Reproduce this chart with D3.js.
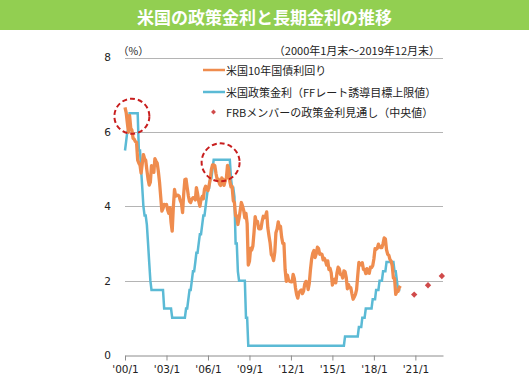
<!DOCTYPE html>
<html>
<head>
<meta charset="utf-8">
<script src="https://cdn.jsdelivr.net/npm/d3@7"></script>
<style>
  body { margin: 0; background: #fff; }
  svg { display: block; font-family: "Noto Sans CJK JP", "DejaVu Sans", sans-serif; }
  .axis text { font-family: "DejaVu Sans", sans-serif; font-size: 10.5px; fill: #222; }
</style>
</head>
<body>
<div id="chart"></div>
<script>
// monthly data, Jan 2000 .. Dec 2019
var startYear = 2000;

// 米国10年国債利回り (%)
var yield10 = [
  6.66, 6.52, 6.26, 5.99, 6.44, 6.10, 6.05, 5.83, 5.80, 5.74, 5.72, 5.24,
  5.16, 5.10, 4.89, 5.14, 5.39, 5.28, 5.24, 4.97, 4.73, 4.57, 4.65, 5.09,
  5.04, 4.91, 5.28, 5.21, 5.16, 4.93, 4.65, 4.26, 3.87, 3.94, 4.05, 4.03,
  4.05, 3.90, 3.81, 3.96, 3.57, 3.33, 3.98, 4.45, 4.27, 4.29, 4.30, 4.27,
  4.15, 4.08, 3.83, 4.35, 4.72, 4.73, 4.50, 4.28, 4.13, 4.10, 4.19, 4.23,
  4.22, 4.17, 4.50, 4.34, 4.14, 4.00, 4.18, 4.26, 4.20, 4.46, 4.54, 4.47,
  4.42, 4.57, 4.72, 4.99, 5.11, 5.11, 5.09, 4.88, 4.72, 4.73, 4.60, 4.56,
  4.76, 4.72, 4.56, 4.69, 4.75, 5.10, 5.00, 4.67, 4.52, 4.53, 4.15, 4.10,
  3.74, 3.74, 3.51, 3.68, 3.88, 4.10, 4.01, 3.89, 3.69, 3.81, 3.53, 2.42,
  2.52, 2.87, 2.82, 2.93, 3.29, 3.72, 3.56, 3.59, 3.40, 3.39, 3.40, 3.59,
  3.73, 3.69, 3.73, 3.85, 3.42, 3.20, 3.01, 2.70, 2.65, 2.54, 2.76, 3.29,
  3.39, 3.58, 3.41, 3.46, 3.17, 3.00, 3.00, 2.30, 1.98, 2.15, 2.01, 1.98,
  1.97, 1.97, 2.17, 2.05, 1.80, 1.62, 1.53, 1.68, 1.72, 1.75, 1.65, 1.72,
  1.91, 1.98, 1.96, 1.76, 1.93, 2.30, 2.58, 2.74, 2.81, 2.62, 2.72, 2.90,
  2.86, 2.71, 2.72, 2.71, 2.56, 2.60, 2.54, 2.42, 2.53, 2.30, 2.33, 2.21,
  1.88, 1.98, 2.04, 1.94, 2.20, 2.36, 2.32, 2.17, 2.17, 2.07, 2.26, 2.24,
  2.09, 1.78, 1.89, 1.81, 1.81, 1.64, 1.50, 1.56, 1.63, 1.76, 2.14, 2.49,
  2.43, 2.42, 2.48, 2.30, 2.30, 2.19, 2.32, 2.21, 2.20, 2.36, 2.35, 2.40,
  2.58, 2.86, 2.84, 2.87, 2.98, 2.91, 2.89, 2.89, 3.00, 3.15, 3.12, 2.83,
  2.71, 2.68, 2.57, 2.53, 2.40, 2.07, 2.06, 1.63, 1.70, 1.71, 1.81, 1.86
];

// 米国政策金利 (FFレート誘導目標上限値, %)
var policyRate = [
  5.50, 5.75, 6.00, 6.00, 6.50, 6.50, 6.50, 6.50, 6.50, 6.50, 6.50, 6.50,
  5.50, 5.50, 5.00, 4.50, 4.00, 3.75, 3.75, 3.50, 3.00, 2.50, 2.00, 1.75,
  1.75, 1.75, 1.75, 1.75, 1.75, 1.75, 1.75, 1.75, 1.75, 1.75, 1.25, 1.25,
  1.25, 1.25, 1.25, 1.25, 1.25, 1.00, 1.00, 1.00, 1.00, 1.00, 1.00, 1.00,
  1.00, 1.00, 1.00, 1.00, 1.00, 1.25, 1.25, 1.50, 1.75, 1.75, 2.00, 2.25,
  2.25, 2.50, 2.75, 2.75, 3.00, 3.25, 3.25, 3.50, 3.75, 3.75, 4.00, 4.25,
  4.50, 4.50, 4.75, 4.75, 5.00, 5.25, 5.25, 5.25, 5.25, 5.25, 5.25, 5.25,
  5.25, 5.25, 5.25, 5.25, 5.25, 5.25, 5.25, 5.25, 4.75, 4.50, 4.50, 4.25,
  3.00, 3.00, 2.25, 2.00, 2.00, 2.00, 2.00, 2.00, 2.00, 1.00, 1.00, 0.25,
  0.25, 0.25, 0.25, 0.25, 0.25, 0.25, 0.25, 0.25, 0.25, 0.25, 0.25, 0.25,
  0.25, 0.25, 0.25, 0.25, 0.25, 0.25, 0.25, 0.25, 0.25, 0.25, 0.25, 0.25,
  0.25, 0.25, 0.25, 0.25, 0.25, 0.25, 0.25, 0.25, 0.25, 0.25, 0.25, 0.25,
  0.25, 0.25, 0.25, 0.25, 0.25, 0.25, 0.25, 0.25, 0.25, 0.25, 0.25, 0.25,
  0.25, 0.25, 0.25, 0.25, 0.25, 0.25, 0.25, 0.25, 0.25, 0.25, 0.25, 0.25,
  0.25, 0.25, 0.25, 0.25, 0.25, 0.25, 0.25, 0.25, 0.25, 0.25, 0.25, 0.25,
  0.25, 0.25, 0.25, 0.25, 0.25, 0.25, 0.25, 0.25, 0.25, 0.25, 0.25, 0.50,
  0.50, 0.50, 0.50, 0.50, 0.50, 0.50, 0.50, 0.50, 0.50, 0.50, 0.50, 0.75,
  0.75, 0.75, 1.00, 1.00, 1.00, 1.25, 1.25, 1.25, 1.25, 1.25, 1.25, 1.50,
  1.50, 1.50, 1.75, 1.75, 1.75, 2.00, 2.00, 2.00, 2.25, 2.25, 2.25, 2.50,
  2.50, 2.50, 2.50, 2.50, 2.50, 2.50, 2.25, 2.25, 2.00, 1.75, 1.75, 1.75
];

// FRBメンバーの政策金利見通し (中央値), year-end
var dotYears = [2020, 2021, 2022];
var dotValues = [1.625, 1.875, 2.125];

// highlighted peaks (dashed circles)
var circleDates = ["2000-07", "2006-12"];
var circleValues = [6.42, 5.18];
var circleRadius = [17.5, 19];

var tickYears = [2000, 2003, 2006, 2009, 2012, 2015, 2018, 2021];
var tickLabels = ["'00/1", "'03/1", "'06/1", "'09/1", "'12/1", "'15/1", "'18/1", "'21/1"];
var yTicks = [0, 2, 4, 6, 8];

var titleText = "米国の政策金利と長期金利の推移";
var periodText = "（2000年1月末～2019年12月末）";
var unitText = "（%）";
var legendLabels = ["米国10年国債利回り", "米国政策金利（FFレート誘導目標上限値）", "FRBメンバーの政策金利見通し（中央値）"];

var W = 529, H = 391;
var colOrange = "#ef8c4e", colBlue = "#5bbad5", colRed = "#d04a4a", colGrid = "#b4b4b4";

var svg = d3.select("#chart").append("svg").attr("width", W).attr("height", H);

// title bar
svg.append("rect").attr("x", 0).attr("y", 0).attr("width", W).attr("height", 30).attr("fill", "#92cf51");
svg.append("text").attr("x", W / 2).attr("y", 16).attr("text-anchor", "middle")
  .attr("dominant-baseline", "central").attr("fill", "#fff").attr("font-weight", "bold")
  .attr("font-size", "17px").text(titleText);

function monthDate(i) { return new Date(startYear, i, 1); }

var x = d3.scaleTime()
  .domain([new Date(2000, 0, 1), new Date(2023, 0, 1)])
  .range([125, 443]);
var y = d3.scaleLinear().domain([0, 8]).range([355, 57.5]);

// gridlines
svg.append("g").selectAll("line").data(yTicks.filter(function(d){ return d > 0; }))
  .enter().append("line")
  .attr("x1", x.range()[0]).attr("x2", x.range()[1])
  .attr("y1", function(d){ return Math.round(y(d)) + 0.5; })
  .attr("y2", function(d){ return Math.round(y(d)) + 0.5; })
  .attr("stroke", colGrid).attr("stroke-width", 1);

// y labels
var yAxis = d3.axisLeft(y).tickValues(yTicks).tickSize(0).tickPadding(0).tickFormat(d3.format("d"));
var gy = svg.append("g").attr("class", "axis").attr("transform", "translate(111,0)").call(yAxis);
gy.select(".domain").remove();
gy.selectAll("text").attr("font-size", "11px");

// x axis
var xAxis = d3.axisBottom(x)
  .tickValues(tickYears.map(function(yr){ return new Date(yr, 0, 1); }))
  .tickFormat(function(d, i){ return tickLabels[i]; })
  .tickSizeInner(5).tickSizeOuter(0).tickPadding(5);
var gx = svg.append("g").attr("class", "axis").attr("transform", "translate(0," + (y(0) + 0.5) + ")").call(xAxis);
gx.select(".domain").attr("stroke", "#8c8c8c");
gx.selectAll(".tick line").attr("stroke", "#8c8c8c");

// lines
var line = d3.line()
  .x(function(d, i){ return x(monthDate(i)); })
  .y(function(d){ return y(d); });

svg.append("path").datum(policyRate)
  .attr("d", line).attr("fill", "none")
  .attr("stroke", colBlue).attr("stroke-width", 2.5).attr("stroke-linejoin", "miter");

svg.append("path").datum(yield10)
  .attr("d", line).attr("fill", "none")
  .attr("stroke", colOrange).attr("stroke-width", 3.3).attr("stroke-linejoin", "round");

// FRB dots (diamonds = rotated squares)
var square = d3.symbol().type(d3.symbolSquare).size(20);
svg.append("g").selectAll("path").data(dotYears).enter().append("path")
  .attr("d", square)
  .attr("transform", function(d, i){ return "translate(" + x(new Date(d, 11, 1)) + "," + y(dotValues[i]) + ") rotate(45)"; })
  .attr("fill", colRed);

// dashed circles
var parseMonth = d3.timeParse("%Y-%m");
svg.append("g").selectAll("circle").data(circleDates).enter().append("circle")
  .attr("cx", function(d){ return x(parseMonth(d)); })
  .attr("cy", function(d, i){ return y(circleValues[i]); })
  .attr("r", function(d, i){ return circleRadius[i]; })
  .attr("fill", "none").attr("stroke", "#c81e1e").attr("stroke-width", 2)
  .attr("stroke-dasharray", "5,3");

// header texts
svg.append("text").attr("x", 118).attr("y", 50).attr("dominant-baseline", "central")
  .attr("font-size", "10.5px").attr("fill", "#222").text(unitText);
svg.append("text").attr("x", 440).attr("y", 50).attr("text-anchor", "end").attr("dominant-baseline", "central")
  .attr("font-size", "11px").attr("fill", "#222").text(periodText);

// legend
var legY = [70, 92, 112];
var leg = svg.append("g");
leg.append("line").attr("x1", 203).attr("x2", 225).attr("y1", legY[0]).attr("y2", legY[0])
  .attr("stroke", colOrange).attr("stroke-width", 2.5);
leg.append("line").attr("x1", 203).attr("x2", 225).attr("y1", legY[1]).attr("y2", legY[1])
  .attr("stroke", colBlue).attr("stroke-width", 2.5);
leg.append("path").attr("d", d3.symbol().type(d3.symbolSquare).size(12))
  .attr("transform", "translate(213.5," + legY[2] + ") rotate(45)").attr("fill", colRed);
leg.selectAll("text").data(legendLabels).enter().append("text")
  .attr("x", 226).attr("y", function(d, i){ return legY[i]; })
  .attr("dominant-baseline", "central").attr("font-size", "11px").attr("fill", "#222")
  .text(function(d){ return d; });
</script>
</body>
</html>
